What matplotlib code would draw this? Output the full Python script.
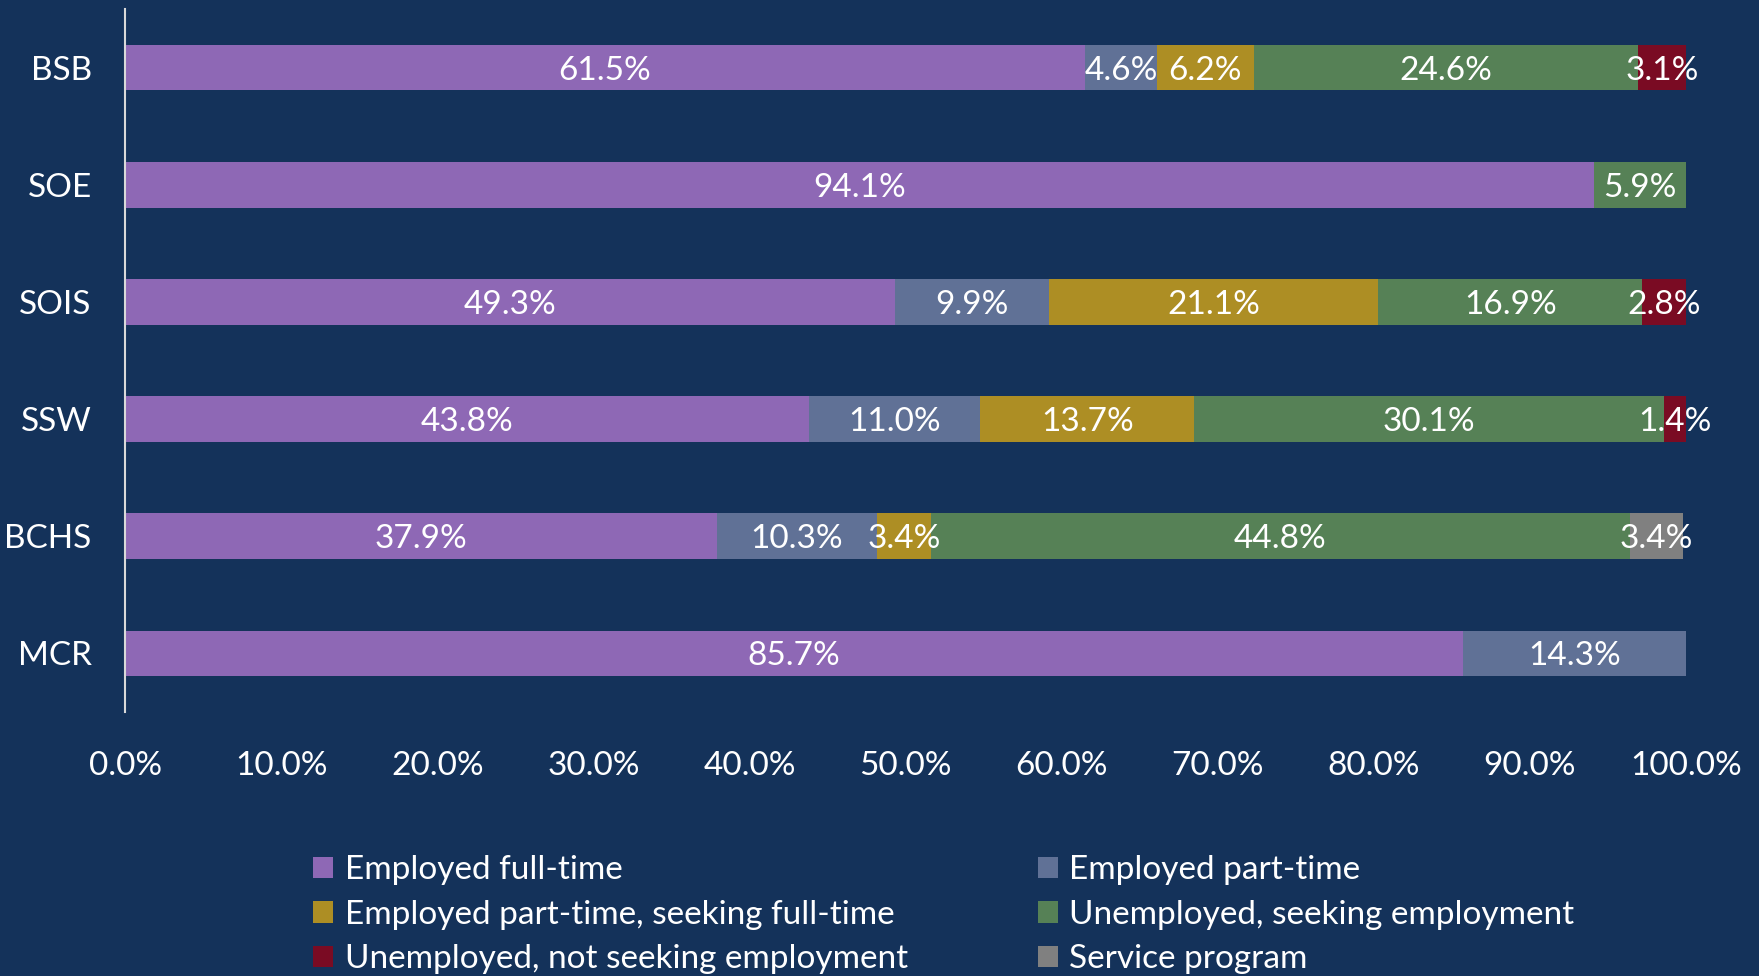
import matplotlib.pyplot as plt
import numpy as np

plt.rcParams['font.family'] = ['Lato', 'DejaVu Sans']

schools = ['BSB', 'SOE', 'SOIS', 'SSW', 'BCHS', 'MCR']
categories = ['Employed full-time', 'Employed part-time',
              'Employed part-time, seeking full-time', 'Unemployed, seeking employment',
              'Unemployed, not seeking employment', 'Service program']
full_time = [61.5, 94.1, 49.3, 43.8, 37.9, 85.7]
part_time = [4.6, 0, 9.9, 11.0, 10.3, 14.3]
part_seek = [6.2, 0, 21.1, 13.7, 3.4, 0]
unemp_seek = [24.6, 5.9, 16.9, 30.1, 44.8, 0]
unemp_not = [3.1, 0, 2.8, 1.4, 0, 0]
service = [0, 0, 0, 0, 3.4, 0]
colors = ['#8E68B5', '#607196', '#AD8E24', '#568156', '#7A0B23', '#808080']

series = [full_time, part_time, part_seek, unemp_seek, unemp_not, service]
bg = '#14325A'

fig = plt.figure(figsize=(17.59, 9.76), dpi=100, facecolor=bg)
ax = fig.add_axes([0.0711, 0.2705, 0.8874, 0.7203])
ax.set_facecolor(bg)

y = np.arange(len(schools))
left = np.zeros(len(schools))
handles = []
for vals, col, name in zip(series, colors, categories):
    vals = np.array(vals)
    h = ax.barh(y, vals, left=left, height=0.39, color=col, label=name)
    handles.append(h)
    for yi, (l, v) in enumerate(zip(left, vals)):
        if v > 0:
            ax.text(l + v / 2, yi, f'{v:.1f}%', ha='center', va='center_baseline',
                    color='white', fontsize=24)
    left += vals

ax.set_xlim(0, 100)
ax.set_ylim(5.5, -0.5)
ax.set_yticks(y)
ax.set_yticklabels(schools)
ax.set_xticks(np.arange(0, 101, 10))
ax.set_xticklabels([f'{v:.1f}%' for v in np.arange(0, 101, 10)])
ax.tick_params(axis='both', length=0, labelsize=24, colors='white')
ax.tick_params(axis='y', pad=24)
ax.tick_params(axis='x', pad=28)
for s in ['top', 'right', 'bottom']:
    ax.spines[s].set_visible(False)
ax.spines['left'].set_color('#D9D9D9')
ax.spines['left'].set_linewidth(1.5)

leg_kw = dict(frameon=False, fontsize=24, labelcolor='white', handlelength=0.6,
              handleheight=0.6, handletextpad=0.35, labelspacing=0.43,
              borderaxespad=0, borderpad=0)
fig.legend([handles[i] for i in (0, 2, 4)], [categories[i] for i in (0, 2, 4)],
           loc='upper left', bbox_to_anchor=(0.178, 0.1235), **leg_kw)
fig.legend([handles[i] for i in (1, 3, 5)], [categories[i] for i in (1, 3, 5)],
           loc='upper left', bbox_to_anchor=(0.590, 0.1235), **leg_kw)

fig.savefig('out.png', dpi=100, facecolor=bg)
